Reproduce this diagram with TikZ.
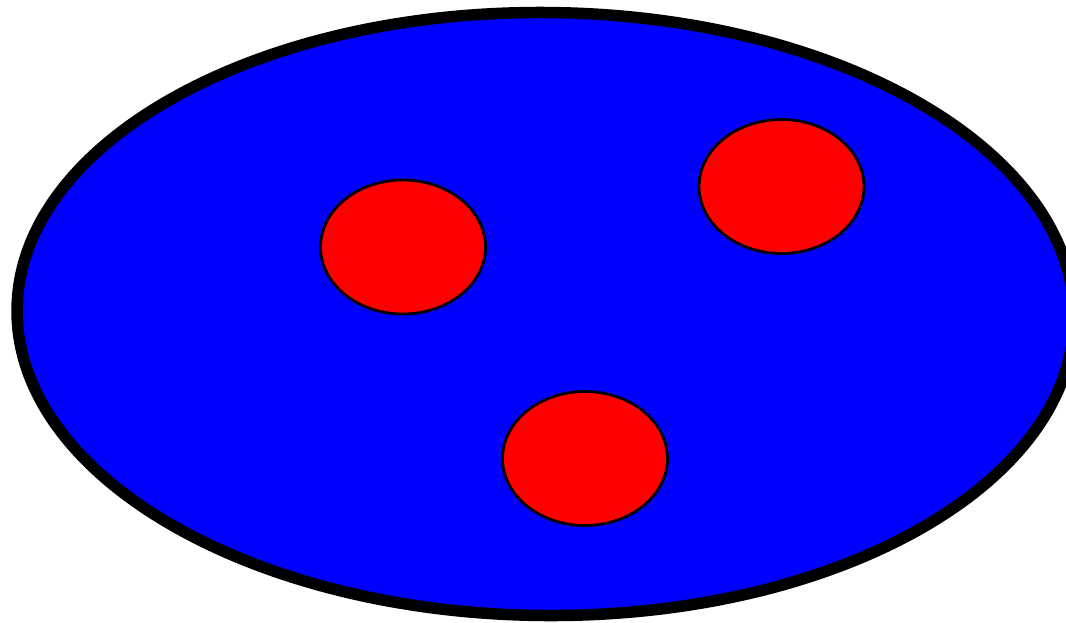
\documentclass[tikz,border=0pt]{standalone}
\begin{document}
\begin{tikzpicture}[x=1pt,y=-1pt,
  outer/.style={draw=black,fill=blue,line width=11.5pt},
  spot/.style={draw=black,fill=red,line width=2.8pt}]
\useasboundingbox (0,0) rectangle (1066,622);
\clip (0,0) rectangle (1066,622);
\draw[outer,rotate around={-0.5:(545.5,314)}] (545.5,314) ellipse [x radius=528.5, y radius=301.5];
\draw[spot] (403,247) ellipse [x radius=82.5, y radius=67];
\draw[spot] (781.5,186.5) ellipse [x radius=82.5, y radius=67];
\draw[spot] (585,458.5) ellipse [x radius=82.5, y radius=67];
\end{tikzpicture}
\end{document}
